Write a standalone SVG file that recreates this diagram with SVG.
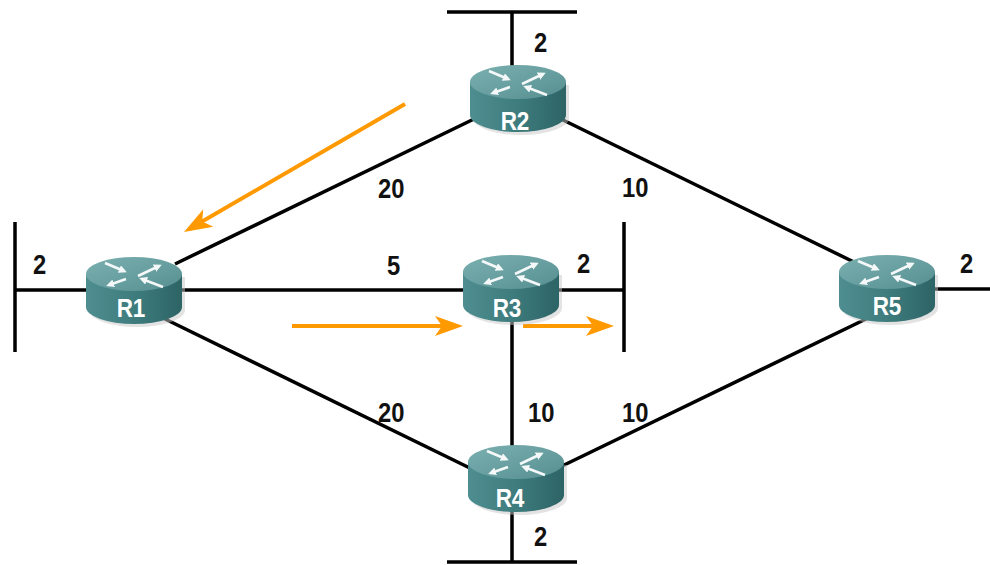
<svg xmlns="http://www.w3.org/2000/svg" width="990" height="565" viewBox="0 0 990 565">
<style>
.ln{stroke:#000;stroke-width:3.5;fill:none;stroke-linecap:butt}
.or{stroke:#ff9900;stroke-width:4;fill:none}
.lbl{font-family:"Liberation Sans",Arial,sans-serif;font-weight:bold;font-size:28px;fill:#111}
.rl{font-family:"Liberation Sans",Arial,sans-serif;font-weight:bold;font-size:25px;fill:#fff;text-anchor:middle}
.wa{stroke:#f4f8f8;stroke-width:2.6;fill:none}
</style>
<defs>
<linearGradient id="sideGrad" x1="0" y1="0" x2="1" y2="0">
<stop offset="0" stop-color="#4f8e90"/>
<stop offset="0.5" stop-color="#3e7c7e"/>
<stop offset="1" stop-color="#2d6466"/>
</linearGradient>
<linearGradient id="topGrad" x1="0" y1="0" x2="1" y2="1">
<stop offset="0" stop-color="#7cb0b1"/>
<stop offset="1" stop-color="#568f91"/>
</linearGradient>
<marker id="whead" markerUnits="userSpaceOnUse" markerWidth="8" markerHeight="8" refX="5" refY="4" orient="auto">
<path d="M0,0 L8,4 L0,8 Z" fill="#f4f8f8"/>
</marker>
<marker id="ohead" markerUnits="userSpaceOnUse" markerWidth="30" markerHeight="22" refX="22" refY="11" orient="auto">
<path d="M0,1 L28,11 L0,21 L7,11 Z" fill="#ff9900"/>
</marker>
<g id="router">
<path d="M-45,3 V36 A48,17 0 0 0 51,36 V3 Z" fill="#c8c8c8" opacity="0.5"/>
<path d="M-48,0 V33 A48,17 0 0 0 48,33 V0 Z" fill="url(#sideGrad)"/>
<ellipse cx="0" cy="0" rx="48" ry="17" fill="url(#topGrad)"/>
<path class="wa" d="M-29,-11 L-10,-3" marker-end="url(#whead)"/>
<path class="wa" d="M4,2 L25,-8" marker-end="url(#whead)"/>
<path class="wa" d="M-8,5 L-25,11" marker-end="url(#whead)"/>
<path class="wa" d="M29,13 L8,5" marker-end="url(#whead)"/>
</g>
</defs>
<rect width="990" height="565" fill="#fff"/>

<g id="connectors">
<path class="ln" d="M447,12 H577 M512,12 V70"/>
<path class="ln" d="M15,222 V352 M15,290 H95"/>
<path class="ln" d="M175,290 H470"/>
<path class="ln" d="M552,290 H624 M624,222 V352"/>
<path class="ln" d="M930,289 H990"/>
<path class="ln" d="M175,264 L474,119"/>
<path class="ln" d="M563,120 L860,265"/>
<path class="ln" d="M163,318 L478,472"/>
<path class="ln" d="M512,320 V450"/>
<path class="ln" d="M560,467 L868,318"/>
<path class="ln" d="M512,505 V562 M447,562 H577"/>
</g>

<g id="flow">
<path class="or" d="M405,104 L189.2,229" marker-end="url(#ohead)"/>
<path class="or" d="M292,326 H457" marker-end="url(#ohead)"/>
<path class="or" d="M523,326 H608" marker-end="url(#ohead)"/>
</g>

<g id="R2"><use href="#router" transform="translate(518,82)"/><text class="rl" transform="translate(515,130) scale(0.9,1)">R2</text></g>
<g id="R1"><use href="#router" transform="translate(134,274)"/><text class="rl" transform="translate(131,317) scale(0.9,1)">R1</text></g>
<g id="R3"><use href="#router" transform="translate(511,272)"/><text class="rl" transform="translate(507,317) scale(0.9,1)">R3</text></g>
<g id="R4"><use href="#router" transform="translate(516,462)"/><text class="rl" transform="translate(510,507) scale(0.9,1)">R4</text></g>
<g id="R5"><use href="#router" transform="translate(887,272)"/><text class="rl" transform="translate(887,315) scale(0.9,1)">R5</text></g>

<g id="labels">
<text class="lbl" transform="translate(534,52) scale(0.85,1)">2</text>
<text class="lbl" transform="translate(378,198) scale(0.85,1)">20</text>
<text class="lbl" transform="translate(622,197) scale(0.85,1)">10</text>
<text class="lbl" transform="translate(33,274) scale(0.85,1)">2</text>
<text class="lbl" transform="translate(387,275) scale(0.85,1)">5</text>
<text class="lbl" transform="translate(577,273) scale(0.85,1)">2</text>
<text class="lbl" transform="translate(960,273) scale(0.85,1)">2</text>
<text class="lbl" transform="translate(378,422) scale(0.85,1)">20</text>
<text class="lbl" transform="translate(528,422) scale(0.85,1)">10</text>
<text class="lbl" transform="translate(622,422) scale(0.85,1)">10</text>
<text class="lbl" transform="translate(534,546) scale(0.85,1)">2</text>
</g>
</svg>
